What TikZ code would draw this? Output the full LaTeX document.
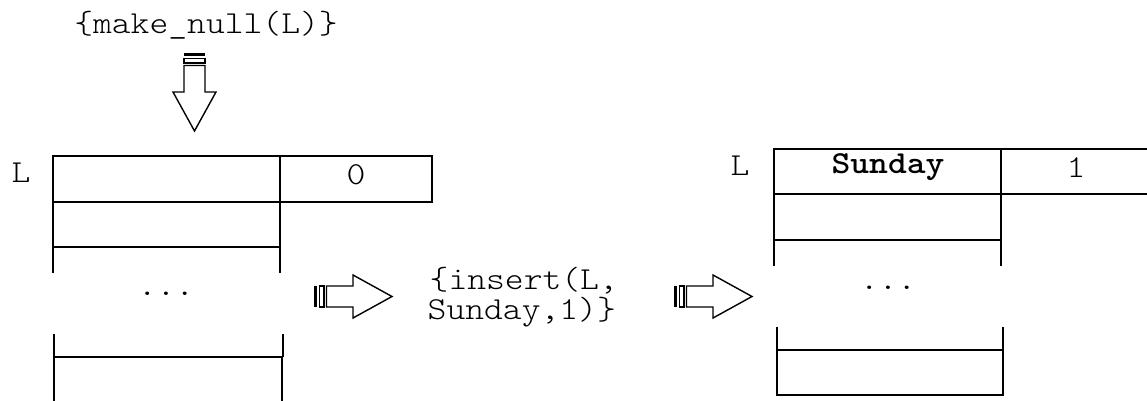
\documentclass[tikz,border=0pt]{standalone}
\usepackage{fontspec}
\newfontfamily\courlike[FakeStretch=1.12, BoldFont=lmmonolt10-bold.otf]{lmmonolt10-regular.otf}
\begin{document}
\begin{tikzpicture}[x=1pt,y=-1pt, line width=1.4pt,
  txt/.style={font=\courlike\fontsize{32}{36}\selectfont, inner sep=0pt},
  boldtxt/.style={font=\courlike\bfseries\fontsize{32}{36}\selectfont, inner sep=0pt},
  stripearrow/.pic={
    \fill (0,-10.5) rectangle (3,10.5);
    \draw (5.5,-10.5) rectangle (10,10.5);
    \draw (12.5,-10.5) -- (39,-10.5) -- (39,-21.5) -- (78,0) -- (39,21.5) -- (39,10.5) -- (12.5,10.5) -- cycle;
  }]
\useasboundingbox (0,0) rectangle (1147,400);
% ---------- left list ----------
\draw (53,156) rectangle (280,202);
\draw (280,156) rectangle (432,202);
\draw (53,202) rectangle (280,247);
\draw (53,247) -- (53,273);
\draw (280,247) -- (280,273);
\draw (54,334) -- (54,402);
\draw (283,334) -- (283,357);
\draw (54,357) -- (282,357);
\draw (282,357) -- (282,402);
% ---------- right list ----------
\draw (774,149) rectangle (1001,194);
\draw (1001,149) -- (1152,149);
\draw (1001,194) -- (1152,194);
\draw (774,194) rectangle (1001,240);
\draw (774,240) -- (774,266);
\draw (1001,240) -- (1001,266);
\draw (777,327) -- (777,350);
\draw (1003,327) -- (1003,350);
\draw (777,350) rectangle (1003,395);
% ---------- arrows ----------
\pic[rotate=-90] at (194.5,53) {stripearrow};
\pic at (314,296.5) {stripearrow};
\pic at (674,296.5) {stripearrow};
% ---------- texts ----------
\node[txt, anchor=base] (mk) at (206,33) {\{make\_null(L)\}};
\node[txt, anchor=base] (lL) at (21,182) {L};
\node[txt, anchor=base] (l0) at (356,184) {0};
\node[txt, anchor=base] (ldots) at (166,295) {...};
\node[txt, anchor=base west] (ins1) at (429,289) {\{insert(L,};
\node[txt, anchor=base west] (ins2) at (427,319) {Sunday,1)\}};
\node[txt, anchor=base] (rL) at (740,175) {L};
\node[boldtxt, anchor=base] (rS) at (888,173) {Sunday};
\node[txt, anchor=base] (r1) at (1076,177) {1};
\node[txt, anchor=base] (rdots) at (888,289) {...};
\end{tikzpicture}
\end{document}
